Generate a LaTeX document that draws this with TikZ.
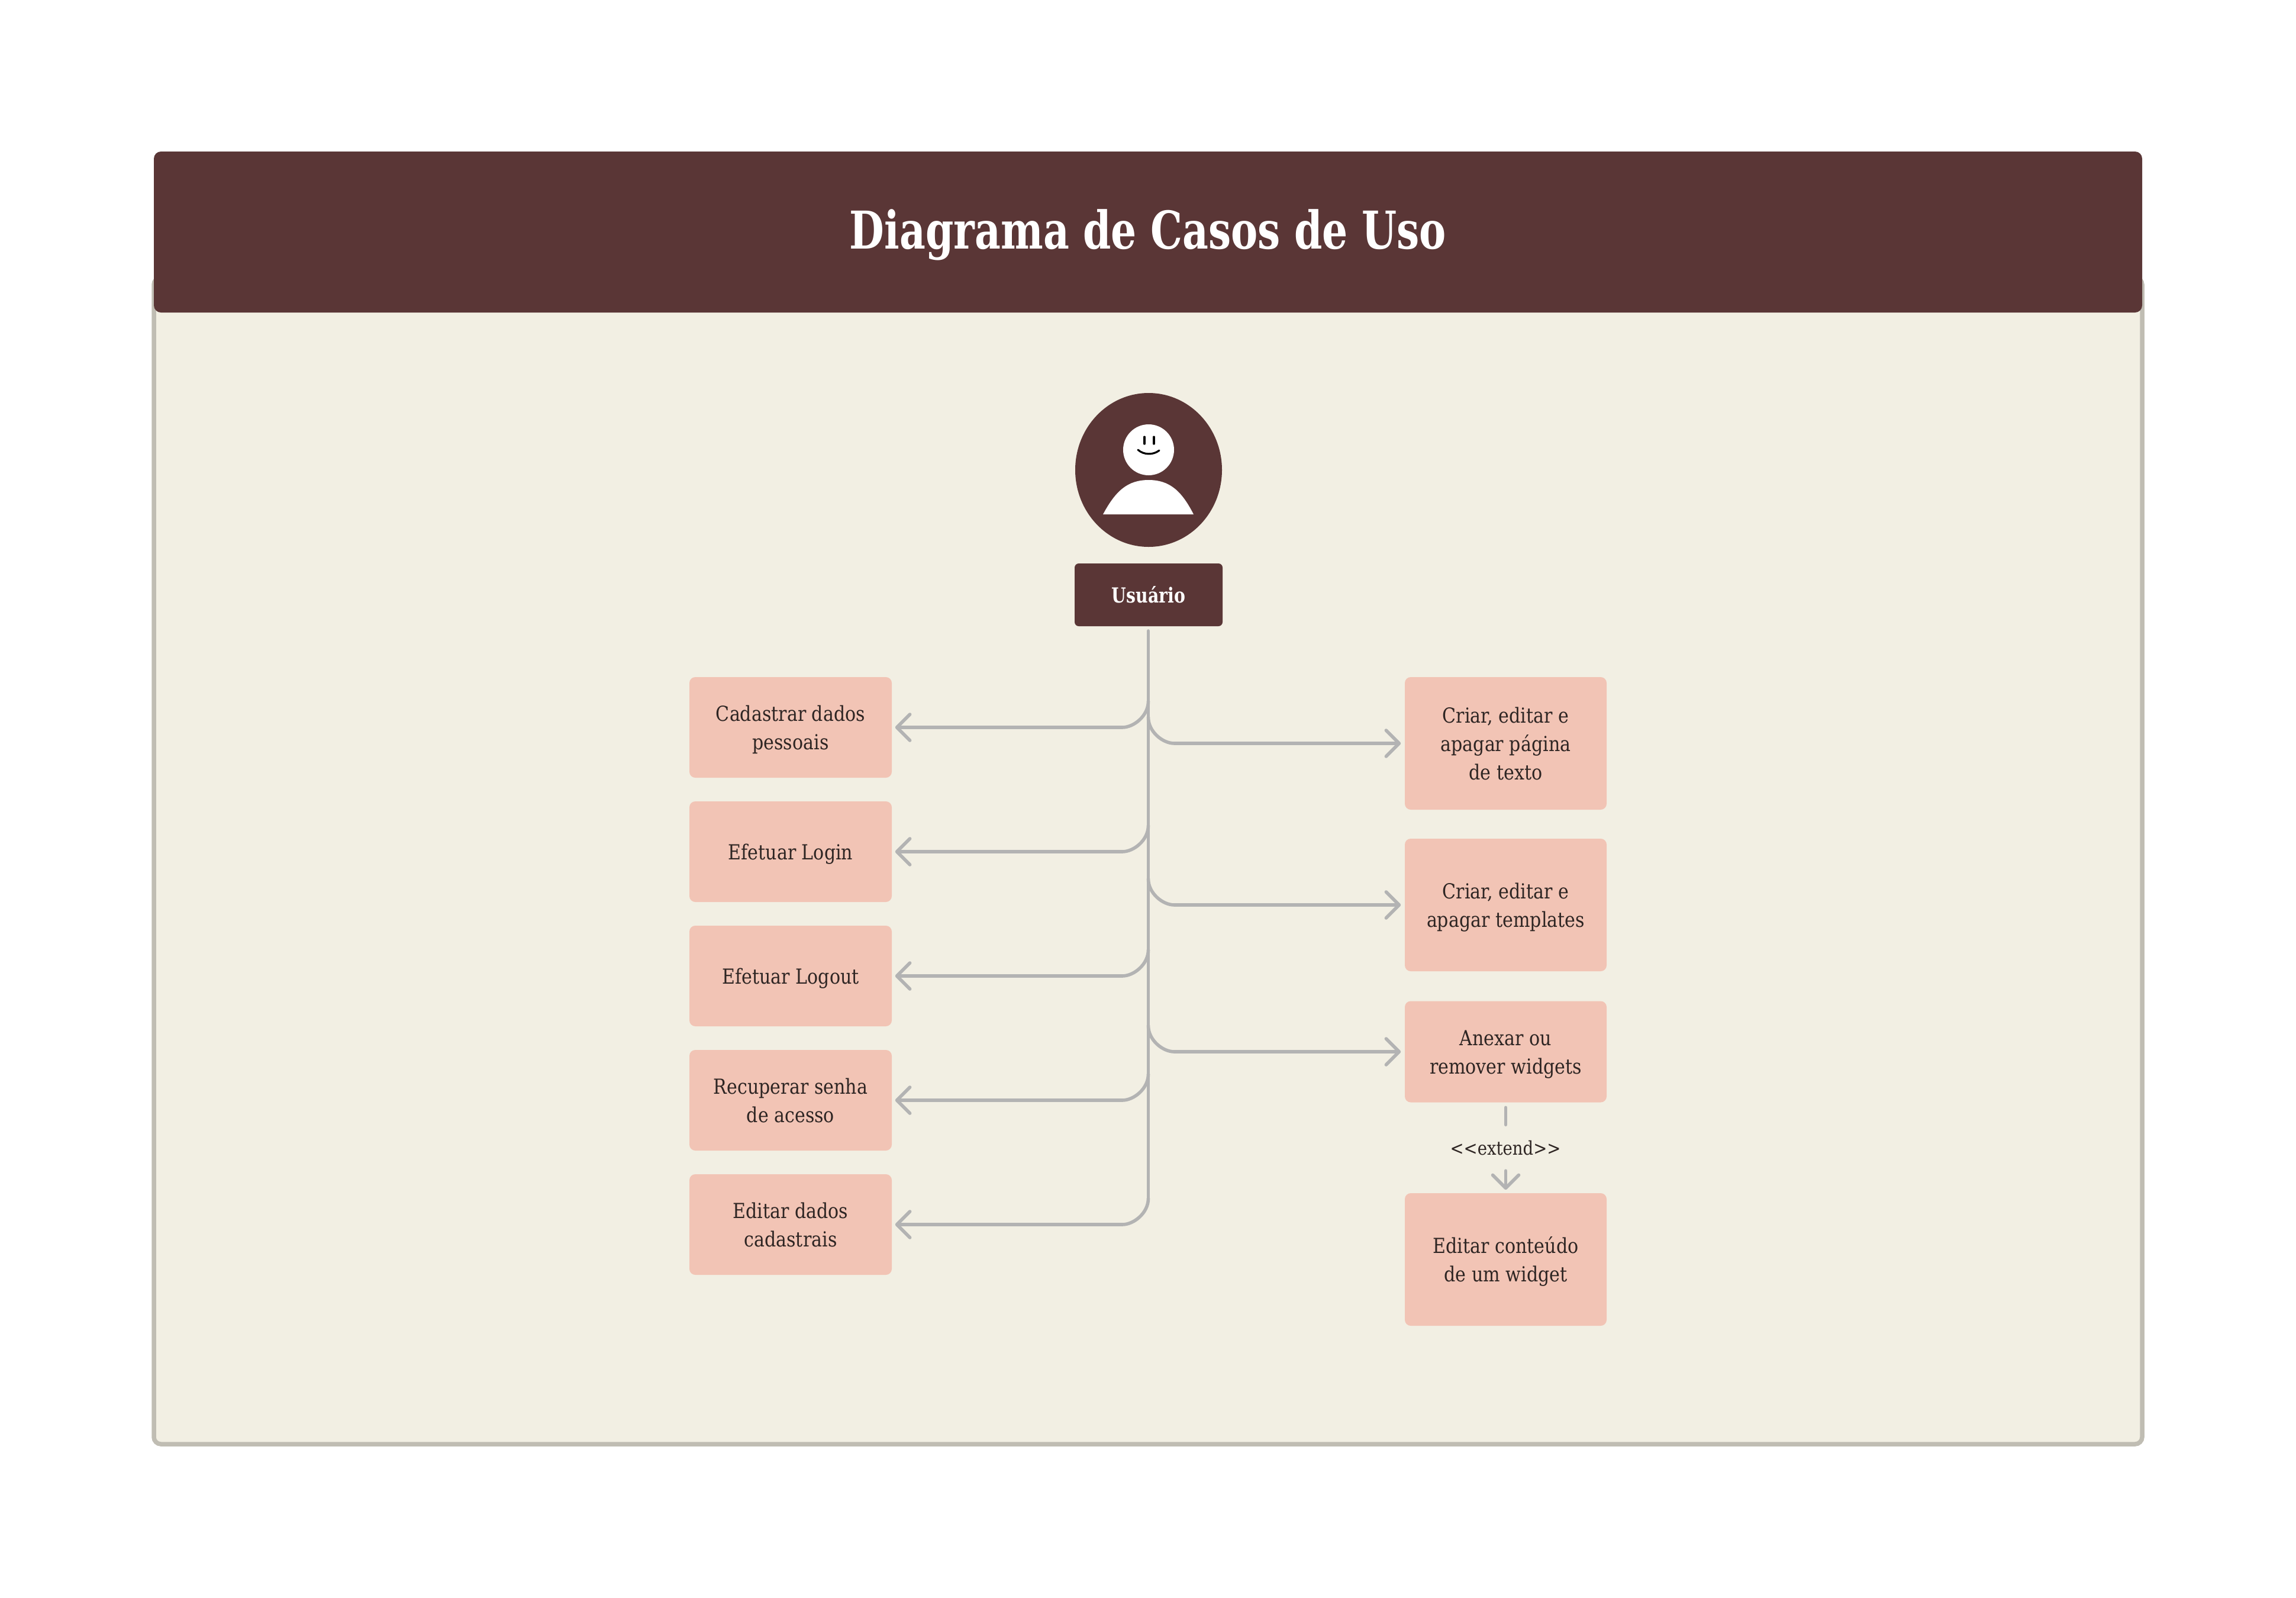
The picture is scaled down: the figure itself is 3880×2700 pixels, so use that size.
\documentclass[tikz,border=0pt]{standalone}
\usepackage{fontspec}
\setmainfont[FakeStretch=0.86]{DejaVu Serif}
\newfontfamily\titlefam[FakeStretch=0.77]{DejaVu Serif}
\newfontfamily\actorfam[FakeStretch=0.81]{DejaVu Serif}
\usetikzlibrary{arrows.meta,calc,shapes.geometric}
\definecolor{hdr}{HTML}{5A3636}
\definecolor{bgc}{HTML}{F2EFE3}
\definecolor{frm}{HTML}{C0BDB3}
\definecolor{boxc}{HTML}{F2C4B5}
\definecolor{linec}{HTML}{B3B3B3}
\definecolor{ink}{HTML}{2E2523}
\newcommand{\ls}{\rule[-1.7pt]{0pt}{10.3pt}}
\tikzset{
  usecase/.style={fill=boxc,rounded corners=2.5pt,inner sep=0pt,align=center,text=ink,
    font=\fontsize{8.75}{12}\selectfont},
  leftcase/.style={usecase,minimum width=85.5pt,minimum height=42.5pt},
  rightcase/.style={usecase,minimum width=85.25pt},
  conn/.style={draw=linec,line width=1.4pt,line cap=round,
    -{Straight Barb[length=5.5pt,width=11pt,line width=1.4pt,round]}},
  trunkline/.style={draw=linec,line width=1.4pt,line cap=round},
}
\newcommand{\leftbranch}[1]{\draw[conn,shorten >=1.25pt]
  ($(tk|-#1.east)+(0,-44)$) .. controls ($(tk|-#1.east)+(0,-20)$) and ($(tk|-#1.east)+(-24,0)$) ..
  ($(tk|-#1.east)+(-44,0)$) -- (#1.east);}
\newcommand{\rightbranch}[1]{\draw[conn,shorten >=1.5pt]
  ($(tk|-#1.west)+(0,-44)$) .. controls ($(tk|-#1.west)+(0,-20)$) and ($(tk|-#1.west)+(24,0)$) ..
  ($(tk|-#1.west)+(44,0)$) -- (#1.west);}
\begin{document}
\begin{tikzpicture}[x=0.25pt,y=-0.25pt]
\useasboundingbox (0,0) rectangle (3880,2700);
% frame and header
\draw[draw=frm,fill=bgc,line width=1.875pt,rounded corners=3pt] (260,469) rectangle (3620,2440);
\node[fill=hdr,rounded corners=3pt,minimum width=840pt,minimum height=68pt,inner sep=0pt,text=white,
  font=\fontsize{22}{26}\titlefam\bfseries,text height=24pt,text depth=9.7pt] (title) at (1940,392) {Diagrama de Casos de Uso};
% actor
\node[ellipse,fill=hdr,minimum width=62pt,minimum height=65pt,inner sep=0pt] (avatar) at (1941,794) {};
\node[circle,fill=white,minimum size=21.5pt,inner sep=0pt] (head) at (1941,760) {};
\fill[white] (1864,869) .. controls (1885,830) and (1905,811) .. (1941,811)
  .. controls (1977,811) and (1997,830) .. (2017,869) -- cycle;
\draw[black,line width=0.8pt,line cap=round] (1934,738) -- (1934,750);
\draw[black,line width=0.8pt,line cap=round] (1950,738) -- (1950,750);
\draw[black,line width=0.8pt,line cap=round] (1923,760) .. controls (1933,769) and (1949,769) .. (1959,761);
\node[fill=hdr,rounded corners=1.75pt,minimum width=62.5pt,minimum height=26.5pt,inner sep=0pt,text=white,
  font=\fontsize{8.75}{12}\actorfam\bfseries,text height=9.4pt,text depth=2.6pt] (usr) at (1941,1005) {Usuário};
% use cases
\node[leftcase] (c1) at (1336,1229) {\ls Cadastrar dados\\\ls pessoais};
\node[leftcase] (c2) at (1336,1439) {\ls Efetuar Login};
\node[leftcase] (c3) at (1336,1649) {\ls Efetuar Logout};
\node[leftcase] (c4) at (1336,1859) {\ls Recuperar senha\\\ls de acesso};
\node[leftcase] (c5) at (1336,2069) {\ls Editar dados\\\ls cadastrais};
\node[rightcase,minimum height=56pt] (r1) at (2544.5,1256) {\ls Criar, editar e\\\ls apagar página\\\ls de texto};
\node[rightcase,minimum height=56pt] (r2) at (2544.5,1529) {\ls Criar, editar e\\\ls apagar templates};
\node[rightcase,minimum height=42.75pt] (r3) at (2544.5,1777) {\ls Anexar ou\\\ls remover widgets};
\node[rightcase,minimum height=56pt] (r4) at (2544.5,2128) {\ls Editar conteúdo\\\ls de um widget};
% connectors
\coordinate (tk) at (1940.5,1066);
\coordinate (tkend) at (tk|-c5.east);
\draw[trunkline] (tk) -- ($(tkend)+(0,-44)$);
\leftbranch{c1}\leftbranch{c2}\leftbranch{c3}\leftbranch{c4}\leftbranch{c5}
\rightbranch{r1}\rightbranch{r2}\rightbranch{r3}
\node[text=ink,font=\fontsize{8}{10}\selectfont,inner sep=0pt] (ext) at (2544,1940) {<{}<extend>{}>};
\coordinate (e1) at ($(r3.south)+(0,8)$);
\coordinate (e2) at ($(r3.south)+(0,37)$);
\coordinate (e3) at ($(r4.north)+(0,-37)$);
\draw[trunkline] (e1) -- (e2);
\draw[conn,shorten >=1.25pt] (e3) -- (r4.north);
\end{tikzpicture}
\end{document}
